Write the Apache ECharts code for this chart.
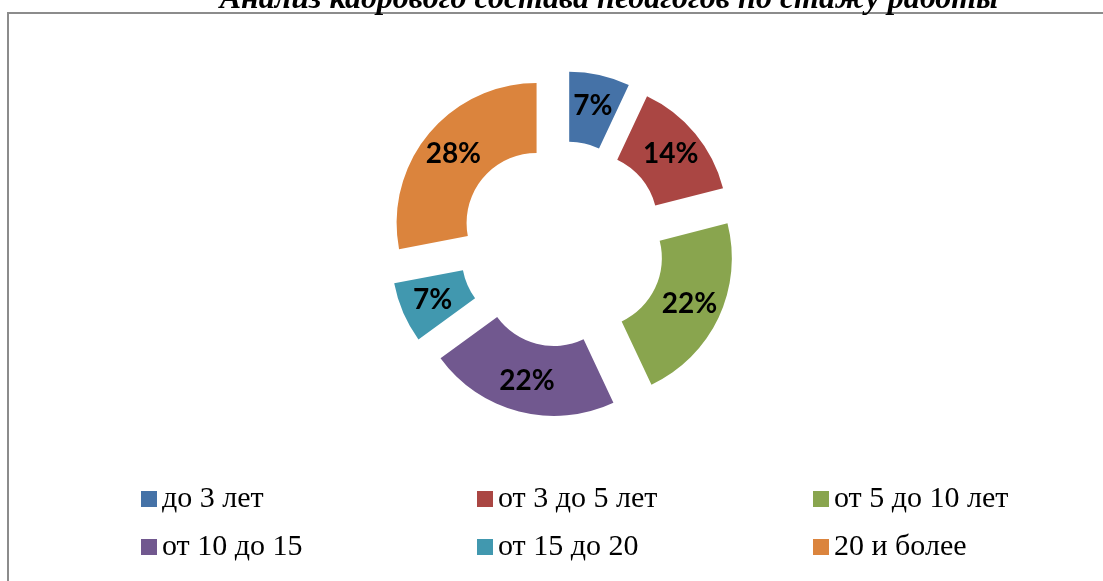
<!DOCTYPE html>
<html><head><meta charset="utf-8">
<script src="https://cdn.jsdelivr.net/npm/echarts@6/dist/echarts.min.js"></script>
<style>html,body{margin:0;padding:0;background:#fff}#c{width:1103px;height:581px}</style>
</head><body><div id="c"></div>
<script>
const titleText = 'Анализ кадрового состава педагогов по стажу работы';
const categories = ['до 3 лет', 'от 3 до 5 лет', 'от 5 до 10 лет', 'от 10 до 15', 'от 15 до 20', '20 и более'];
const values = [7, 14, 22, 22, 7, 28];
const colors = ['#4572A7', '#AA4643', '#89A54E', '#71588F', '#4198AF', '#DB843D'];

const chart = echarts.init(document.getElementById('c'));
const legendCols = [[0, 3], [1, 4], [2, 5]];
const legendLeft = [136, 472, 808];
const legends = legendCols.map((idx, i) => ({
  data: idx.map(k => categories[k]),
  orient: 'vertical',
  left: legendLeft[i],
  top: 479,
  itemWidth: 16,
  itemHeight: 16,
  itemGap: 18,
  itemTextGap: 6,
  icon: 'rect',
  selectedMode: false,
  textStyle: { fontFamily: 'Liberation Serif', fontSize: 30, color: '#000' }
}));
chart.setOption({
  animation: false,
  color: colors,
  legend: legends,
  graphic: [
    { type: 'rect', shape: { x: 8, y: 13, width: 1100, height: 600 }, style: { fill: 'none', stroke: '#8c8c8c', lineWidth: 2 }, z: 0 },
    { type: 'text', style: { text: titleText, x: 609, y: 15.5, textAlign: 'center', textVerticalAlign: 'bottom', font: 'italic bold 32px "Liberation Serif"', fill: '#000' }, z: 10 }
  ],
  series: [{
    type: 'pie',
    center: [562, 244],
    radius: [70, 140],
    startAngle: 90,
    selectedMode: 'multiple',
    selectedOffset: 33,
    label: { show: true, position: 'inner', formatter: p => p.value + '%', fontFamily: 'Lato', fontWeight: 'bold', fontSize: 28, color: '#000' },
    labelLine: { show: false },
    emphasis: { disabled: true },
    select: { itemStyle: { borderWidth: 0 } },
    data: categories.map((n, i) => ({ name: n, value: values[i], selected: true }))
  }]
});
</script></body></html>
